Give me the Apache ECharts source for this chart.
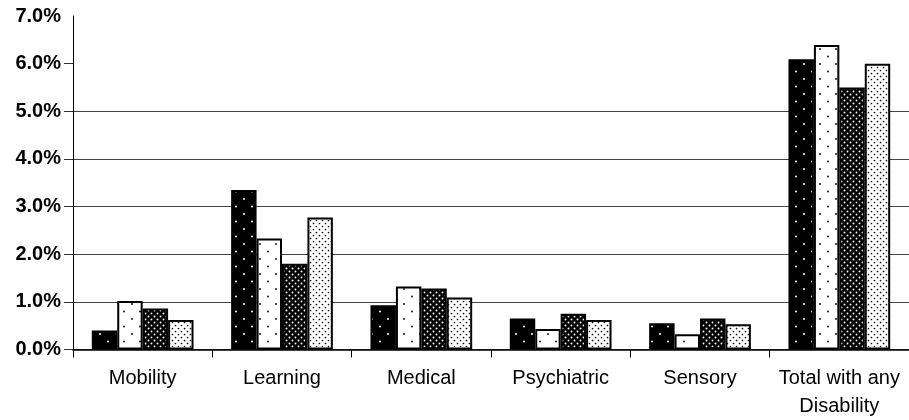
<!DOCTYPE html>
<html>
<head>
<meta charset="utf-8">
<script src="https://cdn.jsdelivr.net/npm/echarts@6/dist/echarts.min.js"></script>
<style>
  html, body { margin: 0; padding: 0; background: #fff; }
  #chart { width: 909px; height: 420px; }
</style>
</head>
<body>
<div id="chart"></div>
<script>
// Prevalence of disability types (percent), four groups per category
const categories = ['Mobility', 'Learning', 'Medical', 'Psychiatric', 'Sensory', 'Total with any\nDisability'];
const seriesNames = ['Series 1', 'Series 2', 'Series 3', 'Series 4'];
const series1 = [0.40, 3.35, 0.93, 0.65, 0.55, 6.09];
const series2 = [1.02, 2.33, 1.32, 0.43, 0.32, 6.39];
const series3 = [0.86, 1.80, 1.28, 0.75, 0.65, 5.50];
const series4 = [0.62, 2.77, 1.09, 0.62, 0.53, 6.00];
const yTicks = [0, 1, 2, 3, 4, 5, 6, 7];

// Dotted fill patterns built on small canvas tiles
function dotPattern(bg, dot, w, h, pts, r) {
  const c = document.createElement('canvas');
  c.width = w; c.height = h;
  const ctx = c.getContext('2d');
  ctx.fillStyle = bg;
  ctx.fillRect(0, 0, w, h);
  ctx.fillStyle = dot;
  pts.forEach(p => {
    ctx.beginPath();
    ctx.arc(p[0], p[1], r, 0, Math.PI * 2);
    ctx.fill();
  });
  return { image: c, repeat: 'repeat' };
}

const sparsePts = [[4, 4], [12, 11.5]];
const densePts = [[1.5, 1.5], [4.5, 4.5]];
const fills = [
  dotPattern('#000', '#fff', 16, 15, sparsePts, 1.0),
  dotPattern('#fff', '#000', 16, 15, sparsePts, 0.9),
  dotPattern('#000', '#fff', 6, 6, densePts, 0.95),
  dotPattern('#fff', '#000', 6, 6, densePts, 0.85)
];

const dataSets = [series1, series2, series3, series4];

const chart = echarts.init(document.getElementById('chart'), null, { renderer: 'canvas' });
chart.setOption({
  animation: false,
  backgroundColor: '#fff',
  grid: { left: 73, right: 0, top: 16, bottom: 70, containLabel: false },
  xAxis: {
    type: 'category',
    data: categories,
    axisLine: { show: true, lineStyle: { color: '#000', width: 1.5 } },
    axisTick: { show: true, length: 8, lineStyle: { color: '#000', width: 1 } },
    axisLabel: {
      interval: 0,
      margin: 14.5,
      color: '#000',
      fontFamily: 'Liberation Sans, Arial, sans-serif',
      fontSize: 20,
      lineHeight: 28
    },
    splitLine: { show: false }
  },
  yAxis: {
    type: 'value',
    min: 0,
    max: 7,
    interval: 1,
    axisLine: { show: true, lineStyle: { color: '#000', width: 1 } },
    axisTick: {
      show: true,
      length: 9,
      customValues: yTicks.slice(0, -1),
      lineStyle: { color: '#333', width: 1 }
    },
    axisLabel: {
      margin: 12,
      color: '#000',
      fontFamily: 'Liberation Sans, Arial, sans-serif',
      fontSize: 20,
      fontWeight: 'bold',
      formatter: v => v.toFixed(1) + '%'
    },
    splitLine: { show: true, showMaxLine: false, lineStyle: { color: '#444', width: 1 } }
  },
  series: dataSets.map((d, i) => ({
    name: seriesNames[i],
    type: 'bar',
    data: d,
    barGap: '0%',
    barCategoryGap: '27%',
    itemStyle: { color: fills[i], borderColor: '#000', borderWidth: 2 }
  }))
});
</script>
</body>
</html>
